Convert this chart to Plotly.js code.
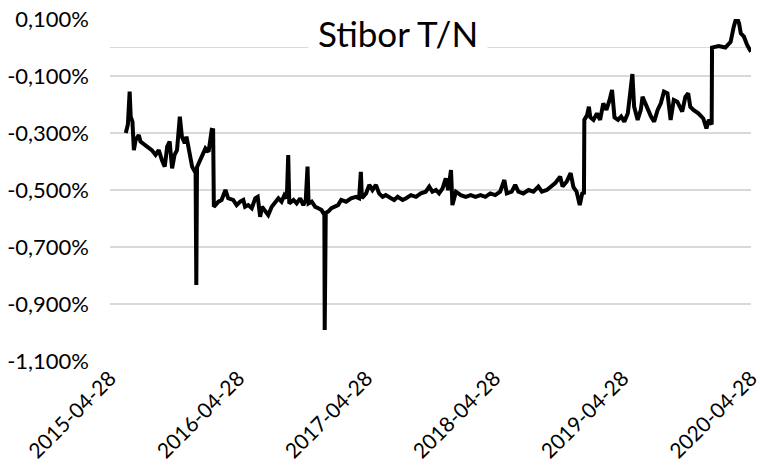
<!DOCTYPE html>
<html>
<head>
<meta charset="utf-8">
<script src="https://cdn.plot.ly/plotly-3.0.1.min.js"></script>
<style>html,body{margin:0;padding:0;background:#fff;}#chart{width:760px;height:470px;}</style>
</head>
<body>
<div id="chart"></div>
<script>
// Stibor T/N, percent
const dates = [
'2015-06-12','2015-06-18','2015-06-23','2015-06-26','2015-07-01','2015-07-05','2015-07-10','2015-07-19','2015-07-24','2015-08-07',
'2015-08-25','2015-09-05','2015-09-14','2015-09-23','2015-10-01','2015-10-08','2015-10-15','2015-10-22','2015-10-29','2015-11-05',
'2015-11-13','2015-11-19','2015-11-27','2015-12-02','2015-12-08','2015-12-18','2015-12-28','2015-12-30','2016-01-01','2016-01-11',
'2016-01-25','2016-02-03','2016-02-12','2016-02-16','2016-02-18','2016-03-02','2016-03-11','2016-03-22','2016-03-30','2016-04-13',
'2016-04-23','2016-05-03','2016-05-12','2016-05-17','2016-05-26','2016-06-05','2016-06-15','2016-06-22','2016-06-29','2016-07-04',
'2016-07-13','2016-07-22','2016-08-01','2016-08-10','2016-08-20','2016-08-29','2016-09-06','2016-09-13','2016-09-17','2016-09-20',
'2016-10-02','2016-10-11','2016-10-21','2016-10-30','2016-11-06','2016-11-11','2016-11-14','2016-11-23','2016-12-03','2016-12-12',
'2016-12-21','2016-12-29','2016-12-30','2017-01-02','2017-01-09','2017-01-18','2017-01-28','2017-02-06','2017-02-15','2017-03-01',
'2017-03-15','2017-03-29','2017-04-07','2017-04-12','2017-04-15','2017-04-27','2017-05-06','2017-05-15','2017-05-25','2017-06-03',
'2017-06-13','2017-06-22','2017-07-07','2017-07-16','2017-07-26','2017-08-09','2017-08-19','2017-09-02','2017-09-16','2017-09-30',
'2017-10-14','2017-10-24','2017-11-02','2017-11-12','2017-11-21','2017-12-01','2017-12-10','2017-12-17','2017-12-25','2017-12-29',
'2018-01-08','2018-01-22','2018-02-05','2018-02-19','2018-03-05','2018-03-19','2018-04-02','2018-04-16','2018-04-30','2018-05-14',
'2018-05-26','2018-06-02','2018-06-16','2018-06-26','2018-07-05','2018-07-19','2018-08-03','2018-08-17','2018-08-31','2018-09-10',
'2018-09-24','2018-10-08','2018-10-18','2018-11-01','2018-11-08','2018-11-20','2018-12-01','2018-12-09','2018-12-18','2018-12-27',
'2019-01-03','2019-01-08','2019-01-09','2019-01-17','2019-01-22','2019-01-26','2019-02-04','2019-02-14','2019-02-23','2019-03-04',
'2019-03-13','2019-03-22','2019-03-29','2019-04-05','2019-04-15','2019-04-24','2019-05-03','2019-05-13','2019-05-17','2019-05-26',
'2019-05-31','2019-06-10','2019-06-19','2019-06-24','2019-07-02','2019-07-09','2019-07-18','2019-07-27','2019-08-06','2019-08-15',
'2019-08-24','2019-09-03','2019-09-12','2019-09-21','2019-10-01','2019-10-15','2019-10-24','2019-11-01','2019-11-07','2019-11-16',
'2019-11-30','2019-12-14','2019-12-23','2019-12-30','2020-01-07','2020-01-08','2020-01-27','2020-02-15','2020-03-01','2020-03-10',
'2020-03-18','2020-03-25','2020-03-30','2020-04-08','2020-04-17','2020-04-28'
];
const rates = [
-0.300,-0.270,-0.155,-0.243,-0.260,-0.360,-0.325,-0.307,-0.330,-0.342,
-0.360,-0.377,-0.360,-0.395,-0.418,-0.348,-0.330,-0.424,-0.377,-0.360,
-0.243,-0.313,-0.336,-0.313,-0.360,-0.418,-0.440,-0.833,-0.420,-0.389,
-0.354,-0.366,-0.289,-0.290,-0.559,-0.541,-0.535,-0.500,-0.529,-0.535,
-0.553,-0.541,-0.535,-0.559,-0.553,-0.564,-0.529,-0.524,-0.594,-0.559,
-0.576,-0.588,-0.559,-0.547,-0.529,-0.541,-0.518,-0.529,-0.377,-0.547,
-0.535,-0.547,-0.529,-0.553,-0.535,-0.418,-0.547,-0.541,-0.559,-0.564,
-0.570,-0.588,-0.991,-0.580,-0.576,-0.564,-0.559,-0.553,-0.535,-0.541,
-0.529,-0.524,-0.529,-0.436,-0.529,-0.512,-0.482,-0.500,-0.482,-0.512,
-0.524,-0.518,-0.529,-0.535,-0.524,-0.535,-0.529,-0.518,-0.524,-0.512,
-0.506,-0.488,-0.506,-0.500,-0.512,-0.494,-0.459,-0.500,-0.430,-0.553,
-0.506,-0.518,-0.524,-0.518,-0.524,-0.518,-0.524,-0.512,-0.518,-0.506,
-0.465,-0.512,-0.506,-0.482,-0.506,-0.512,-0.500,-0.506,-0.488,-0.506,
-0.500,-0.488,-0.476,-0.453,-0.488,-0.470,-0.441,-0.490,-0.506,-0.553,
-0.512,-0.510,-0.254,-0.237,-0.208,-0.245,-0.254,-0.231,-0.254,-0.196,
-0.219,-0.184,-0.149,-0.245,-0.254,-0.242,-0.260,-0.231,-0.196,-0.093,
-0.208,-0.254,-0.219,-0.173,-0.196,-0.219,-0.242,-0.260,-0.219,-0.196,
-0.155,-0.161,-0.254,-0.184,-0.190,-0.225,-0.173,-0.161,-0.208,-0.219,
-0.231,-0.249,-0.284,-0.254,-0.270,0.000,0.005,0.000,0.020,0.073,
0.108,0.085,0.050,0.038,0.009,-0.015
];
const xTickVals = ['2015-04-28','2016-04-28','2017-04-28','2018-04-28','2019-04-28','2020-04-28'];
const xTickText = ['2015-04-28','2016-04-28','2017-04-28','2018-04-28','2019-04-28','2020-04-28'];
const yTickVals = [0.1,-0.1,-0.3,-0.5,-0.7,-0.9,-1.1];
const yTickText = ['0,100%','-0,100%','-0,300%','-0,500%','-0,700%','-0,900%','-1,100%'];
const chartTitle = 'Stibor T/N';

const FONT = 'Lato, "Open Sans", sans-serif';
const trace = {
  x: dates, y: rates, type: 'scatter', mode: 'lines',
  line: {color: '#000000', width: 4, shape: 'linear'},
  hoverinfo: 'x+y'
};
const layout = {
  width: 760, height: 470,
  margin: {l: 110, r: 9, t: 19, b: 109},
  paper_bgcolor: '#ffffff', plot_bgcolor: '#ffffff',
  showlegend: false,
  font: {family: FONT, color: '#000000'},
  xaxis: {
    type: 'date', range: ['2015-04-28', '2020-04-28 02:00'],
    tickmode: 'array', tickvals: xTickVals, ticktext: xTickText,
    tickangle: -45, tickfont: {family: FONT, size: 21, color: '#000'},
    ticklabeloverflow: 'allow',
    showgrid: false, zeroline: false, showline: false, ticks: '',
    automargin: false, fixedrange: true
  },
  yaxis: {
    range: [-1.1, 0.1],
    tickmode: 'array', tickvals: yTickVals, ticktext: yTickText,
    tickfont: {family: FONT, size: 22, color: '#000'},
    ticklabelstandoff: 20,
    showgrid: true, gridcolor: '#d9d9d9', gridwidth: 1.3,
    zeroline: true, zerolinecolor: '#d9d9d9', zerolinewidth: 1.3,
    showline: false, ticks: '', ticklen: 0, automargin: false, fixedrange: true
  },
  annotations: [{
    text: chartTitle, xref: 'paper', yref: 'paper',
    x: 0.45, y: 0.958, xanchor: 'center', yanchor: 'middle',
    showarrow: false, bgcolor: '#ffffff', borderpad: 9,
    font: {family: FONT, size: 35, color: '#000'}
  }]
};
Plotly.newPlot('chart', [trace], layout, {displayModeBar: false, staticPlot: true});
</script>
</body>
</html>
